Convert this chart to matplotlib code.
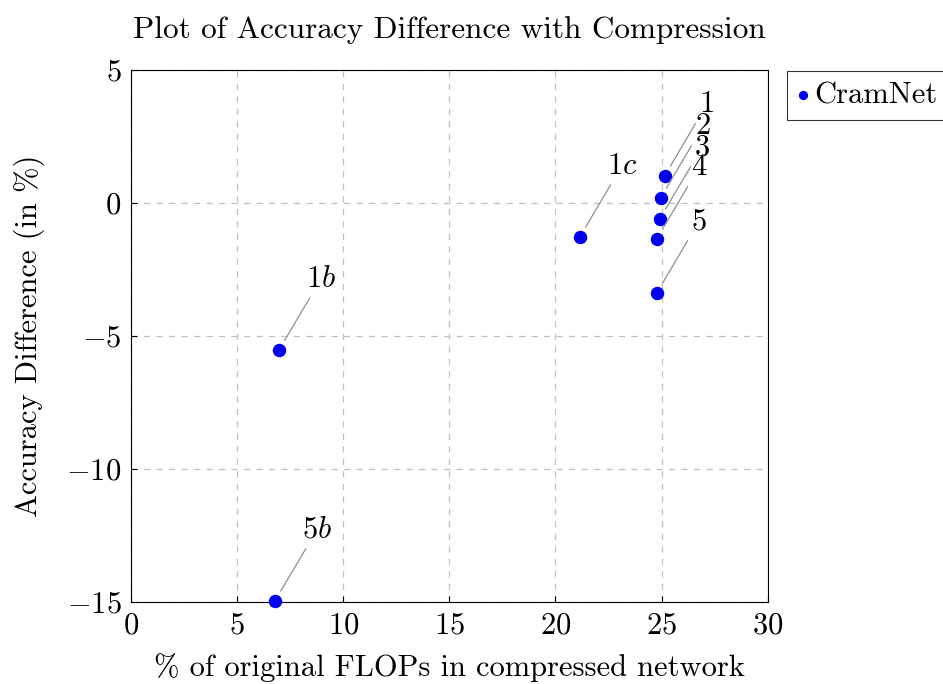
import matplotlib
matplotlib.use("Agg")
from matplotlib import pyplot as plt

plt.rcParams["font.family"] = "serif"
plt.rcParams["font.serif"] = ["cmr10"]
plt.rcParams["mathtext.fontset"] = "cm"
plt.rcParams["axes.formatter.use_mathtext"] = True
plt.rcParams["axes.unicode_minus"] = True

# data
labels = ["$1$", "$2$", "$3$", "$4$", "$5$", "$1c$", "$1b$", "$5b$"]
flops = [25.15, 24.96, 24.92, 24.78, 24.78, 21.15, 6.97, 6.78]
acc_diff = [1.02, 0.19, -0.60, -1.35, -3.38, -1.28, -5.53, -14.96]

FS = 22

fig = plt.figure(figsize=(9.43, 6.84), dpi=100)
ax = fig.add_axes([0.139, 0.120, 0.675, 0.778])

ax.scatter(flops, acc_diff, s=75, color="#0000ee", zorder=3, label="CramNet",
           clip_on=False)

# pin-style labels
for lab, x, y in zip(labels, flops, acc_diff):
    ax.annotate(lab, xy=(x, y), xytext=(42, 71), textcoords="offset pixels",
                ha="center", va="center", fontsize=FS,
                arrowprops=dict(arrowstyle="-", color="#909090", lw=0.9,
                                shrinkA=2, shrinkB=8))

ax.set_xlim(0, 30)
ax.set_ylim(-15, 5)
ax.set_xticks(range(0, 31, 5))
ax.set_yticks(range(-15, 6, 5))
ax.grid(True, linestyle=(0, (5, 5)), color="#c0c0c0", lw=0.9)
ax.set_axisbelow(True)
ax.tick_params(direction="in", labelsize=FS, length=4, pad=7)
for sp in ax.spines.values():
    sp.set_linewidth(0.8)

ax.set_title("Plot of Accuracy Difference with Compression", fontsize=22.5, pad=23)
ax.set_xlabel("% of original FLOPs in compressed network", fontsize=FS, labelpad=10)
ax.set_ylabel("Accuracy Difference (in %)", fontsize=FS, labelpad=15)

leg = ax.legend(loc="upper left", bbox_to_anchor=(787 / 943, 1 - 71 / 684),
                bbox_transform=fig.transFigure, fontsize=FS, frameon=True,
                fancybox=False, edgecolor="black", handlelength=0.35,
                handletextpad=0.2, borderpad=0.35, borderaxespad=0,
                markerscale=0.65)
leg.get_frame().set_linewidth(0.8)

plt.savefig("out.png", dpi=100)
